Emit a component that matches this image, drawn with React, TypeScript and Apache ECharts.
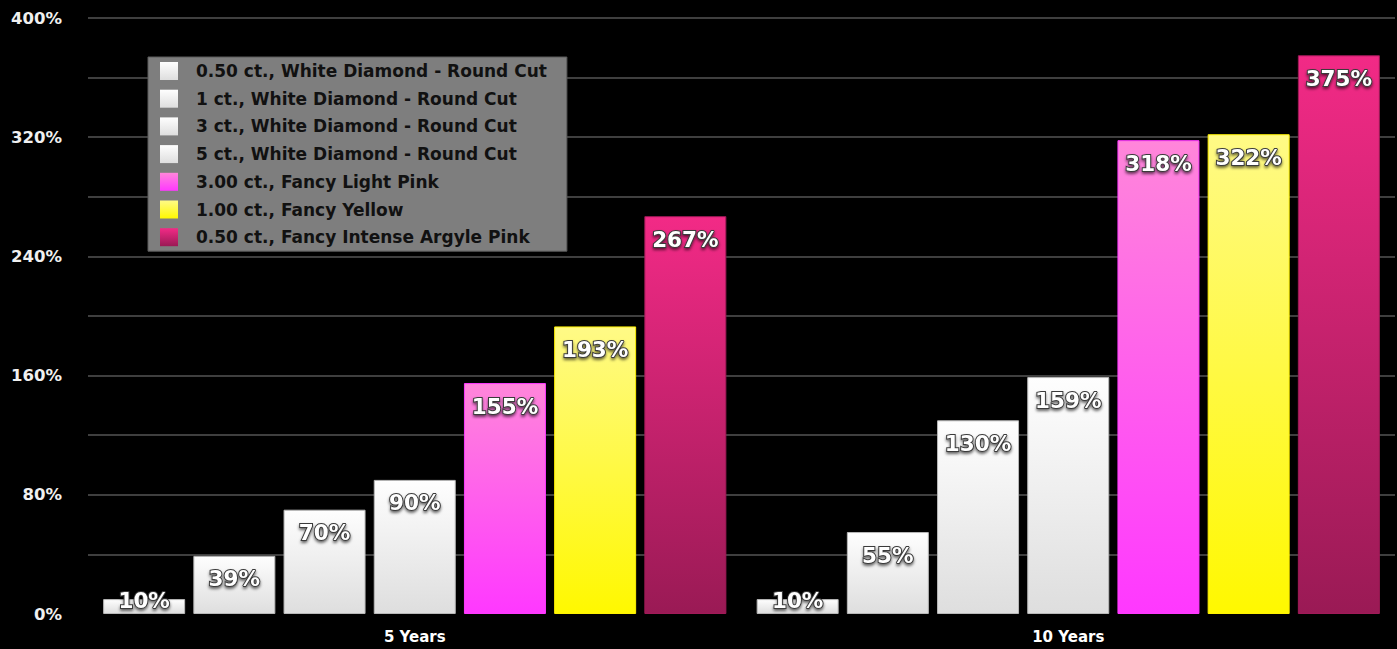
import React, { useEffect, useRef } from "react";
import * as echarts from "echarts";

const categories = ["5 Years", "10 Years"];
const seriesNames = [
  "0.50 ct., White Diamond - Round Cut",
  "1 ct., White Diamond - Round Cut",
  "3 ct., White Diamond - Round Cut",
  "5 ct., White Diamond - Round Cut",
  "3.00 ct., Fancy Light Pink",
  "1.00 ct., Fancy Yellow",
  "0.50 ct., Fancy Intense Argyle Pink",
];
const white050 = [10, 10];
const white1 = [39, 55];
const white3 = [70, 130];
const white5 = [90, 159];
const lightPink = [155, 318];
const yellow = [193, 322];
const argylePink = [267, 375];
const seriesValues = [white050, white1, white3, white5, lightPink, yellow, argylePink];
const yTicks = [0, 80, 160, 240, 320, 400];

const grad = (top: string, bottom: string) =>
  new echarts.graphic.LinearGradient(0, 0, 0, 1, [
    { offset: 0, color: top },
    { offset: 1, color: bottom },
  ]);

const styles = [
  { top: "#fefefe", bottom: "#dedede", border: "#b8b8b8" },
  { top: "#fefefe", bottom: "#dedede", border: "#b8b8b8" },
  { top: "#fefefe", bottom: "#dedede", border: "#b8b8b8" },
  { top: "#fefefe", bottom: "#dedede", border: "#b8b8b8" },
  { top: "#ff86da", bottom: "#ff38ff", border: "#ff38ff" },
  { top: "#fffa86", bottom: "#fff800", border: "#fff200" },
  { top: "#f22a86", bottom: "#9a1a55", border: "#a01a58" },
];

const FONT = "'DejaVu Sans', Verdana, sans-serif";

export default function App() {
  const ref = useRef<HTMLDivElement>(null);
  useEffect(() => {
    if (!ref.current) return;
    const chart = echarts.init(ref.current, undefined, { renderer: "svg" });
    const series = seriesNames.map((name, i) => ({
      name,
      type: "bar",
      barWidth: 82,
      barGap: "10%",
      itemStyle: {
        color: grad(styles[i].top, styles[i].bottom),
        borderColor: styles[i].border,
        borderWidth: 1,
      },
      label: {
        show: true,
        position: "insideTop",
        distance: 12,
        formatter: "{c}%",
        color: "#ffffff",
        fontFamily: FONT,
        fontWeight: "bold",
        fontSize: 21.5,
        textBorderColor: "#3a3a3a",
        textBorderWidth: 2,
        textShadowColor: "rgba(0,0,0,0.6)",
        textShadowBlur: 3,
        textShadowOffsetY: 2,
      },
      data: seriesValues[i].map((v) =>
        v < 20
          ? { value: v, label: { position: "top", distance: -12 } }
          : { value: v }
      ),
    }));
    chart.setOption({
      animation: false,
      backgroundColor: "#000000",
      grid: { left: 88, right: 2, top: 18, bottom: 35 },
      legend: {
        orient: "vertical",
        left: 148,
        top: 57,
        backgroundColor: "#7e7e7e",
        borderColor: "#5a5a5a",
        borderWidth: 1,
        borderRadius: 0,
        padding: [5, 20, 5, 12],
        itemWidth: 18,
        itemHeight: 18,
        itemGap: 9.7,
        icon: "rect",
        selectedMode: false,
        itemStyle: { borderWidth: 0 },
        textStyle: {
          color: "#111111",
          fontFamily: FONT,
          fontWeight: "bold",
          fontSize: 17,
          lineHeight: 18,
          padding: [0, 0, 0, 13],
        },
        data: seriesNames,
      },
      xAxis: {
        type: "category",
        data: categories,
        axisLine: { show: false },
        axisTick: { show: false },
        axisLabel: {
          color: "#ffffff",
          fontFamily: FONT,
          fontWeight: "bold",
          fontSize: 15,
          margin: 15,
        },
      },
      yAxis: {
        type: "value",
        min: 0,
        max: 400,
        interval: 40,
        axisLine: { show: false },
        axisTick: { show: false },
        splitLine: { show: true, showMinLine: false, lineStyle: { color: "#3f3f3f", width: 2 } },
        axisLabel: {
          color: "#f0f0f0",
          fontFamily: FONT,
          fontWeight: "bold",
          fontSize: 16.5,
          margin: 26,
          formatter: (v: number) => (yTicks.includes(v) ? v + "%" : ""),
        },
      },
      series,
    });
    return () => chart.dispose();
  }, []);
  return (
    <div
      ref={ref}
      style={{ position: "absolute", left: 0, top: 0, width: 1397, height: 649 }}
    />
  );
}
